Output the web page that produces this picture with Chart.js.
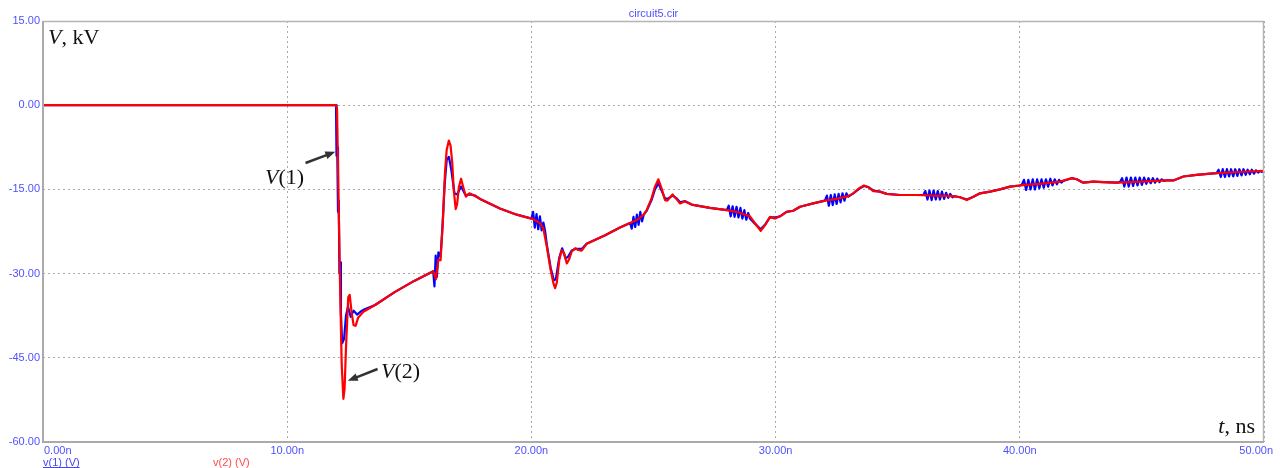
<!DOCTYPE html>
<html>
<head>
<meta charset="utf-8">
<script src="https://cdn.jsdelivr.net/npm/chart.js@4.4.1/dist/chart.umd.min.js"></script>
<style>
  html, body { margin: 0; padding: 0; background: #ffffff; }
  #wrap { width: 1283px; height: 468px; }
</style>
</head>
<body>
<div id="wrap"><canvas id="plot" width="1283" height="468"></canvas></div>
<script>
// Time axis (ns) and voltage axis (kV) tick values
const xTickValues = [0, 10, 20, 30, 40, 50];
const yTickValues = [-60, -45, -30, -15, 0, 15];

// v(1): [time ns, voltage kV]
const v1Points = [
  [0, 0], [12.0, 0], [12.02, -9], [12.05, -7.5], [12.08, -19], [12.11, -17], [12.14, -30], [12.17, -28],
  [12.20, -37], [12.25, -42.4], [12.33, -41.6], [12.41, -37.4], [12.49, -35.9], [12.60, -37.7],
  [12.72, -36.6], [12.86, -37.3], [13.0, -36.8], [13.15, -36.4], [13.6, -35.6], [14.4, -33.3],
  [15.2, -31.3], [15.98, -29.6], [16.03, -32.3], [16.08, -26.8], [16.13, -30.6], [16.19, -26.2],
  [16.28, -27.0], [16.36, -21.5], [16.45, -14], [16.53, -9.8], [16.62, -9.2], [16.72, -11.5],
  [16.85, -15.7], [16.96, -15.9], [17.12, -14.5], [17.30, -16.0], [17.5, -15.9], [17.7, -16.1],
  [17.90, -16.7], [18.71, -18.4], [19.4, -19.5],
  [20.00, -20.2], [20.07, -19.0], [20.14, -21.8], [20.21, -19.4], [20.28, -22.1], [20.35, -19.8],
  [20.42, -22.3], [20.49, -20.9], [20.56, -22.4],
  [20.63, -24.8], [20.79, -29.0], [20.92, -31.2], [21.0, -31.0], [21.14, -27.2], [21.26, -25.5],
  [21.40, -27.3], [21.50, -27.0], [21.65, -25.9], [21.80, -25.6], [22.06, -25.6], [22.26, -24.7],
  [23.0, -23.2], [23.63, -21.8],
  [24.04, -21.0], [24.11, -22.0], [24.18, -19.9], [24.25, -21.7], [24.32, -19.5], [24.39, -21.3],
  [24.46, -19.0], [24.53, -20.7], [24.60, -19.5],
  [24.72, -18.8], [24.92, -16.9], [25.06, -15.0], [25.20, -13.9], [25.33, -15.2], [25.47, -16.6],
  [25.57, -16.7], [25.78, -16.1], [25.92, -16.5], [26.09, -17.3], [26.29, -17.1], [26.56, -17.7],
  [27.31, -18.3],
  [28.0, -18.7], [28.08, -17.9], [28.16, -19.8], [28.24, -18.0], [28.32, -19.9], [28.40, -18.1],
  [28.48, -20.0], [28.56, -18.3], [28.64, -20.2], [28.72, -18.7], [28.80, -20.4], [28.88, -19.2],
  [28.95, -20.2],
  [29.15, -21.1], [29.39, -22.1], [29.58, -21.2], [29.77, -20.0], [29.98, -20.0], [30.18, -19.8],
  [30.45, -19.0], [30.72, -18.8], [31.0, -18.1], [31.54, -17.5],
  [32.02, -17.0], [32.10, -16.1], [32.18, -17.9], [32.26, -16.0], [32.34, -17.8], [32.42, -15.9],
  [32.50, -17.6], [32.58, -15.8], [32.66, -17.3], [32.74, -15.7], [32.82, -17.0], [32.90, -15.7],
  [32.98, -16.3],
  [33.18, -15.7], [33.42, -14.9], [33.62, -14.4], [33.8, -14.6], [34.0, -15.2], [34.27, -15.4],
  [34.55, -15.8], [35.09, -16.0], [35.78, -16.0],
  [36.05, -16.0], [36.13, -15.3], [36.22, -16.8], [36.30, -15.2], [36.39, -16.9], [36.47, -15.2],
  [36.56, -16.8], [36.64, -15.3], [36.73, -16.8], [36.81, -15.4], [36.90, -16.7], [36.98, -15.6],
  [37.07, -16.5], [37.15, -15.8], [37.24, -16.4], [37.30, -16.2],
  [37.55, -16.4], [37.83, -16.8], [38.1, -16.3], [38.37, -15.7], [38.78, -15.4], [39.19, -15.0],
  [39.6, -14.5], [40.0, -14.3],
  [40.08, -14.2], [40.17, -13.3], [40.26, -15.1], [40.35, -13.3], [40.44, -15.0], [40.53, -13.2],
  [40.62, -15.0], [40.71, -13.2], [40.80, -14.8], [40.89, -13.2], [40.98, -14.7], [41.07, -13.2],
  [41.16, -14.5], [41.25, -13.1], [41.34, -14.3], [41.43, -13.2], [41.52, -14.1], [41.61, -13.3],
  [41.70, -13.8], [41.78, -13.5],
  [42.13, -13.0], [42.33, -13.2], [42.6, -13.8], [43.01, -13.6], [43.42, -13.7], [43.97, -13.8],
  [44.10, -13.7], [44.19, -13.0], [44.28, -14.5], [44.37, -12.9], [44.46, -14.5], [44.55, -12.9],
  [44.64, -14.4], [44.73, -12.9], [44.82, -14.3], [44.91, -12.9], [45.00, -14.2], [45.09, -12.9],
  [45.18, -14.0], [45.27, -13.0], [45.36, -13.9], [45.45, -13.0], [45.54, -13.8], [45.63, -13.1],
  [45.72, -13.7], [45.81, -13.2], [45.90, -13.5], [46.00, -13.4],
  [46.29, -13.4], [46.7, -12.7], [47.24, -12.4], [47.8, -12.2],
  [48.06, -12.1], [48.14, -11.5], [48.23, -12.8], [48.31, -11.4], [48.40, -12.8], [48.48, -11.4],
  [48.57, -12.7], [48.65, -11.4], [48.74, -12.7], [48.82, -11.4], [48.91, -12.6], [48.99, -11.4],
  [49.08, -12.5], [49.16, -11.4], [49.25, -12.4], [49.33, -11.5], [49.42, -12.3], [49.50, -11.5],
  [49.59, -12.2], [49.67, -11.6], [49.76, -12.0], [49.84, -11.7], [49.92, -11.9], [50.0, -11.7]
];

// v(2): [time ns, voltage kV]
const v2Points = [
  [0, 0], [12.0, 0], [12.04, -0.6], [12.09, -13], [12.16, -31], [12.23, -46], [12.30, -52.3],
  [12.35, -50.5], [12.41, -43], [12.50, -34.2], [12.56, -33.8], [12.64, -37], [12.72, -39.2],
  [12.80, -39.3], [12.91, -37.8], [13.12, -36.8], [13.6, -35.6], [14.4, -33.3], [15.2, -31.3],
  [15.98, -29.6], [16.09, -31], [16.19, -27.5], [16.28, -27.6], [16.37, -21], [16.46, -12.1],
  [16.53, -8], [16.62, -6.3], [16.69, -7.2], [16.76, -10.3], [16.82, -15.1], [16.90, -18.5],
  [16.96, -17.6], [17.03, -14.6], [17.12, -13.1], [17.21, -14.6], [17.32, -16.3], [17.46, -15.7],
  [17.62, -16], [17.90, -16.7], [18.71, -18.4], [19.4, -19.5], [20.01, -20.2], [20.15, -20.5],
  [20.35, -21], [20.49, -22], [20.63, -25.2], [20.79, -29.4], [20.90, -31.7], [20.97, -32.6],
  [21.04, -31.6], [21.14, -27.6], [21.24, -25.8], [21.34, -26.4], [21.45, -28.2], [21.54, -27.5],
  [21.65, -26.1], [21.79, -25.5], [21.92, -25.8], [22.06, -25.9], [22.26, -24.7], [23.0, -23.2],
  [23.63, -21.8], [24.04, -21.0], [24.3, -20.5], [24.58, -19.6], [24.72, -18.7], [24.92, -16.6],
  [25.06, -14.5], [25.20, -13.2], [25.33, -14.8], [25.47, -16.9], [25.57, -17.0], [25.78, -15.9],
  [25.92, -16.6], [26.09, -17.5], [26.29, -17.1], [26.56, -17.7], [27.31, -18.3], [28.0, -18.7],
  [28.5, -19.1], [28.95, -19.8], [29.2, -21.3], [29.39, -22.4], [29.58, -21.3], [29.77, -19.9],
  [29.98, -20.2], [30.18, -19.8], [30.45, -19.0], [30.72, -18.8], [31.0, -18.1], [31.54, -17.5],
  [32.02, -17.0], [32.5, -16.7], [32.98, -16.2], [33.18, -15.7], [33.42, -14.8], [33.62, -14.3],
  [33.8, -14.6], [34.0, -15.3], [34.27, -15.4], [34.55, -15.8], [35.09, -16.0], [35.78, -16.0],
  [36.5, -16.1], [37.28, -16.2], [37.55, -16.4], [37.83, -16.9], [38.1, -16.3], [38.37, -15.7],
  [38.78, -15.4], [39.19, -15.0], [39.6, -14.5], [40.0, -14.3], [40.8, -14.0], [41.65, -13.6],
  [42.13, -13.0], [42.33, -13.2], [42.6, -13.8], [43.01, -13.6], [43.42, -13.7], [43.97, -13.8],
  [45.0, -13.6], [46.0, -13.4], [46.29, -13.4], [46.7, -12.7], [47.24, -12.4], [48.06, -12.1],
  [49.0, -11.9], [50.0, -11.7]
];

// Callouts placed in data units [time ns, voltage kV]
const v1Label = { text: '1', at: [9.09, -14.0], tail: [10.75, -10.3], tip: [11.97, -8.3] };
const v2Label = { text: '2', at: [13.84, -48.6], tail: [13.70, -47.0], tip: [12.48, -49.1] };

const TICK_BLUE = '#5050ff';
const GRID = '#a9a9a9';

const toXY = pts => pts.map(p => ({ x: p[0], y: p[1] }));

const decorations = {
  id: 'decorations',
  afterDraw(chart) {
    const ctx = chart.ctx;
    const area = chart.chartArea;
    const xs = chart.scales.x;
    const ys = chart.scales.y;
    ctx.save();

    // plot frame
    ctx.strokeStyle = '#b4b4b4';
    ctx.lineWidth = 1.5;
    ctx.beginPath();
    ctx.moveTo(area.left, area.top + 0.5);
    ctx.lineTo(area.right, area.top + 0.5);
    ctx.moveTo(area.right - 0.5, area.top);
    ctx.lineTo(area.right - 0.5, area.bottom);
    ctx.stroke();
    ctx.strokeStyle = '#aaaaaa';
    ctx.lineWidth = 2;
    ctx.beginPath();
    ctx.moveTo(area.left, area.top);
    ctx.lineTo(area.left, area.bottom);
    ctx.lineTo(area.right, area.bottom);
    ctx.stroke();

    // title
    ctx.fillStyle = TICK_BLUE;
    ctx.font = '11px "Liberation Sans", Arial, sans-serif';
    ctx.textAlign = 'center';
    ctx.textBaseline = 'alphabetic';
    ctx.fillText('circuit5.cir', (area.left + area.right) / 2, 17);

    // time tick labels
    ctx.textBaseline = 'middle';
    xTickValues.forEach((v, i) => {
      const px = xs.getPixelForValue(v);
      const label = v.toFixed(2) + 'n';
      if (i === 0) { ctx.textAlign = 'left'; ctx.fillText(label, px + 1, area.bottom + 9); }
      else if (i === xTickValues.length - 1) { ctx.textAlign = 'right'; ctx.fillText(label, px + 9, area.bottom + 9); }
      else { ctx.textAlign = 'center'; ctx.fillText(label, px, area.bottom + 9); }
    });

    // trace names
    ctx.textAlign = 'left';
    ctx.textBaseline = 'alphabetic';
    ctx.fillStyle = '#4646ee';
    ctx.fillText('v(1) (V)', area.left, 466);
    const w1 = ctx.measureText('v(1) (V)').width;
    ctx.fillRect(area.left, 467, w1, 1);
    ctx.fillStyle = '#ff4a4a';
    ctx.fillText('v(2) (V)', 213, 466);

    // axis quantity labels (serif)
    const serifItalic = 'italic 22px "Liberation Serif", "Times New Roman", serif';
    const serif = '22px "Liberation Serif", "Times New Roman", serif';
    ctx.fillStyle = '#111111';
    const drawPair = (italicPart, rest, x, y) => {
      ctx.font = serifItalic;
      ctx.fillText(italicPart, x, y);
      const w = ctx.measureText(italicPart).width;
      ctx.font = serif;
      ctx.fillText(rest, x + w, y);
      return w + ctx.measureText(rest).width;
    };
    drawPair('V', ', kV', area.left + 5, area.top + 23);
    ctx.font = serif;
    const tw = ctx.measureText(', ns').width;
    ctx.font = serifItalic;
    const tiw = ctx.measureText('t').width;
    drawPair('t', ', ns', area.right - 9 - tw - tiw, area.bottom - 9);

    // curve callouts with arrows
    const arrow = (tail, tip) => {
      const x0 = xs.getPixelForValue(tail[0]), y0 = ys.getPixelForValue(tail[1]);
      const x1 = xs.getPixelForValue(tip[0]), y1 = ys.getPixelForValue(tip[1]);
      const ang = Math.atan2(y1 - y0, x1 - x0);
      const head = 10, half = 4;
      ctx.strokeStyle = '#333333';
      ctx.fillStyle = '#333333';
      ctx.lineWidth = 2.5;
      ctx.beginPath();
      ctx.moveTo(x0, y0);
      ctx.lineTo(x1 - Math.cos(ang) * head * 0.8, y1 - Math.sin(ang) * head * 0.8);
      ctx.stroke();
      ctx.beginPath();
      ctx.moveTo(x1, y1);
      ctx.lineTo(x1 - Math.cos(ang) * head - Math.sin(ang) * half, y1 - Math.sin(ang) * head + Math.cos(ang) * half);
      ctx.lineTo(x1 - Math.cos(ang) * head + Math.sin(ang) * half, y1 - Math.sin(ang) * head - Math.cos(ang) * half);
      ctx.closePath();
      ctx.fill();
    };
    [v1Label, v2Label].forEach(l => {
      ctx.fillStyle = '#111111';
      drawPair('V', '(' + l.text + ')', xs.getPixelForValue(l.at[0]), ys.getPixelForValue(l.at[1]));
      arrow(l.tail, l.tip);
    });

    ctx.restore();
  }
};

new Chart(document.getElementById('plot'), {
  type: 'line',
  data: {
    datasets: [
      {
        label: 'v(1) (V)',
        data: toXY(v1Points),
        borderColor: '#0000ff',
        borderWidth: 2.2,
        borderJoinStyle: 'round',
        borderCapStyle: 'round',
        pointRadius: 0,
        tension: 0,
        order: 2
      },
      {
        label: 'v(2) (V)',
        data: toXY(v2Points),
        borderColor: '#ff0000',
        borderWidth: 2.2,
        borderJoinStyle: 'round',
        borderCapStyle: 'round',
        pointRadius: 0,
        tension: 0,
        order: 1
      }
    ]
  },
  options: {
    responsive: false,
    animation: false,
    devicePixelRatio: 1,
    parsing: false,
    layout: { padding: { top: 21, right: 19, left: 0, bottom: 0 } },
    plugins: { legend: { display: false }, tooltip: { enabled: false }, title: { display: false } },
    scales: {
      x: {
        type: 'linear',
        min: 0,
        max: 50,
        afterBuildTicks: s => { s.ticks = xTickValues.map(v => ({ value: v })); },
        afterFit: s => { s.height = 26; },
        ticks: { display: false },
        grid: { color: GRID, lineWidth: 1, drawTicks: false },
        border: { display: false, dash: [2, 3] }
      },
      y: {
        type: 'linear',
        min: -60,
        max: 15,
        afterBuildTicks: s => { s.ticks = yTickValues.map(v => ({ value: v })); },
        afterFit: s => { s.width = 43; },
        ticks: {
          color: TICK_BLUE,
          padding: 3,
          font: { family: '"Liberation Sans", Arial, sans-serif', size: 11 },
          callback: v => Number(v).toFixed(2)
        },
        grid: { color: GRID, lineWidth: 1, drawTicks: false },
        border: { display: false, dash: [2, 3] }
      }
    }
  },
  plugins: [decorations]
});
</script>
</body>
</html>
